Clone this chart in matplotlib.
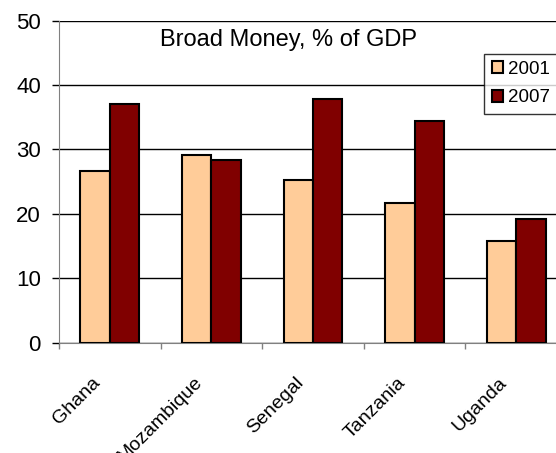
import matplotlib.pyplot as plt
import matplotlib.transforms as mtransforms
import numpy as np

plt.rcParams['font.family'] = ['Liberation Sans', 'DejaVu Sans']

countries = ["Ghana", "Mozambique", "Senegal", "Tanzania", "Uganda"]
years = ["2001", "2007"]
vals_2001 = [26.7, 29.1, 25.2, 21.7, 15.8]
vals_2007 = [37.0, 28.3, 37.8, 34.4, 19.2]
colors = ["#FFCC99", "#800000"]

fig = plt.figure(figsize=(5.56, 4.53), dpi=100)
# axes runs a bit past the right edge of the picture, like the original
ax = fig.add_axes([59 / 556, 1 - 342.7 / 453, 508 / 556, 322 / 453])

x = np.arange(len(countries))
w = 0.29
ax.bar(x - w / 2, vals_2001, w, color=colors[0], edgecolor="black", linewidth=1.5,
       label=years[0], zorder=3)
ax.bar(x + w / 2, vals_2007, w, color=colors[1], edgecolor="black", linewidth=1.5,
       label=years[1], zorder=3)

ax.set_xlim(-0.5, len(countries) - 0.5)
ax.set_ylim(0, 50)
ax.set_yticks(range(0, 51, 10))
ax.yaxis.grid(True, color="black", linewidth=1, zorder=0)

for s in ["top", "right"]:
    ax.spines[s].set_visible(False)
ax.spines["left"].set_color("#808080")
ax.spines["bottom"].set_color("#808080")

# y ticks
ax.tick_params(axis="y", length=5, width=1, color="black", pad=8, labelsize=16)

# x: tick marks between categories, labels at centres
ax.set_xticks(x)
ax.set_xticklabels(countries, rotation=45, ha="right", va="top", fontsize=14)
ax.tick_params(axis="x", which="major", length=0, pad=22.5)
ax.set_xticks(np.arange(-0.5, len(countries)), minor=True)
ax.tick_params(axis="x", which="minor", length=4, width=1, color="#808080")
offset = mtransforms.ScaledTranslation(-6 / 100, 0, fig.dpi_scale_trans)
for lab in ax.get_xticklabels():
    lab.set_transform(lab.get_transform() + offset)

fig.text(289 / 556, 1 - 40 / 453, "Broad Money, % of GDP", fontsize=17,
         ha="center", va="center")

leg = ax.legend(loc="upper left", bbox_to_anchor=(484 / 556, 1 - 53.5 / 453, 90 / 556, 0),
                mode="expand",
                bbox_transform=fig.transFigure, borderaxespad=0, fontsize=13.5,
                fancybox=False, frameon=True, edgecolor="black",
                handlelength=0.62, handleheight=0.62, handletextpad=0.25,
                labelspacing=0.6, borderpad=0.4)
leg.get_frame().set_linewidth(1)

fig.savefig("out.png", dpi=100)
